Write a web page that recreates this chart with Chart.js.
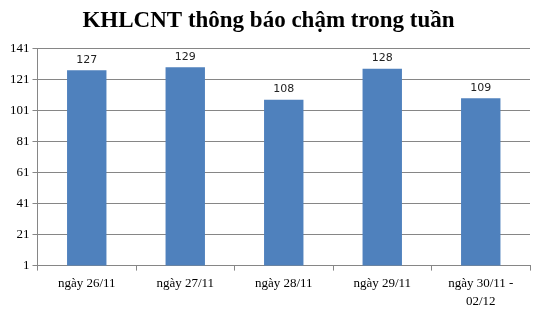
<!DOCTYPE html>
<html>
<head>
<meta charset="utf-8">
<script src="https://cdn.jsdelivr.net/npm/chart.js@4/dist/chart.umd.min.js"></script>
<style>
  html, body { margin: 0; padding: 0; background: #fff; }
  #wrap { width: 538px; height: 309px; }
</style>
</head>
<body>
<div id="wrap"><canvas id="myChart" width="538" height="309"></canvas></div>
<script>
const categories = ['ngày 26/11', 'ngày 27/11', 'ngày 28/11', 'ngày 29/11', ['ngày 30/11 -', '02/12']];
const values = [127, 129, 108, 128, 109];
const yTicks = [1, 21, 41, 61, 81, 101, 121, 141];

// draw value labels above each bar
const barLabels = {
    id: 'barLabels',
    afterDatasetsDraw(chart) {
        const c = chart.ctx;
        c.save();
        c.font = '11px "DejaVu Sans"';
        c.fillStyle = '#222';
        c.textAlign = 'center';
        c.textBaseline = 'bottom';
        chart.getDatasetMeta(0).data.forEach((bar, i) => {
            c.fillText(values[i], bar.x, bar.y - 5);
        });
        c.restore();
    }
};

const ctx = document.getElementById('myChart').getContext('2d');
const myChart = new Chart(ctx, {
    type: 'bar',
    data: {
        labels: categories,
        datasets: [{
            data: values,
            backgroundColor: '#4F81BD',
            categoryPercentage: 0.8,
            barPercentage: 0.5
        }]
    },
    options: {
        responsive: false,
        animation: false,
        layout: { padding: { left: 7, right: 8, top: 0, bottom: -6 } },
        plugins: {
            legend: { display: false },
            tooltip: { enabled: false },
            title: {
                display: true,
                text: 'KHLCNT thông báo chậm trong tuần',
                color: '#000',
                font: { family: '"Liberation Serif"', size: 23, weight: 'bold' },
                padding: { top: 7, bottom: 14 }
            }
        },
        scales: {
            x: {
                grid: { drawOnChartArea: false, drawTicks: true, tickLength: 5, color: '#868686' },
                border: { color: '#868686' },
                ticks: {
                    color: '#000',
                    font: { family: '"Liberation Serif"', size: 13, lineHeight: 1.4 },
                    maxRotation: 0,
                    autoSkip: false,
                    padding: 4
                }
            },
            y: {
                min: 1,
                max: 141,
                afterBuildTicks(scale) {
                    scale.ticks = yTicks.map(v => ({ value: v }));
                },
                grid: { color: '#868686', tickLength: 5 },
                border: { color: '#868686' },
                ticks: {
                    color: '#000',
                    font: { family: '"Liberation Serif"', size: 13 },
                    padding: 3
                }
            }
        }
    },
    plugins: [barLabels]
});
</script>
</body>
</html>
